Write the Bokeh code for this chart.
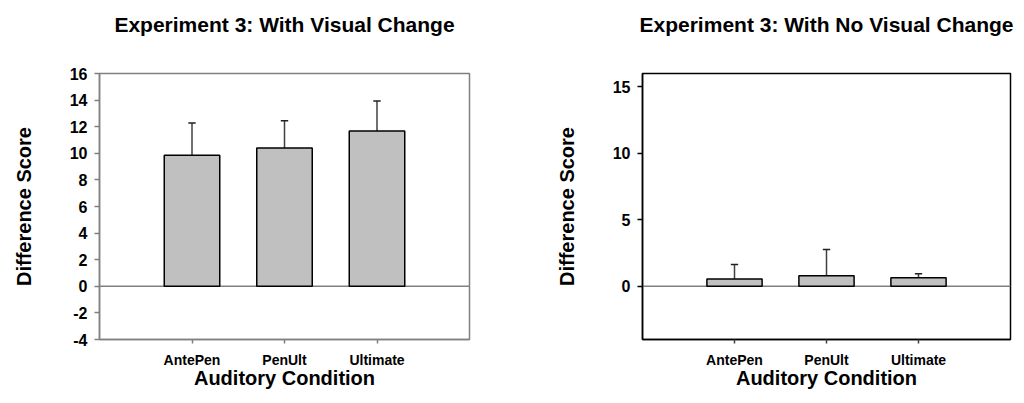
from bokeh.plotting import figure
from bokeh.layouts import row
from bokeh.models import FixedTicker, Range1d, Span, ColumnDataSource, Title
from bokeh.embed import file_html
from bokeh.resources import INLINE

# ---- data ----
categories = ["AntePen", "PenUlt", "Ultimate"]
cat_pos = [1, 2, 3]

visual_means = [9.85, 10.40, 11.68]
visual_errs = [2.43, 2.05, 2.25]

novisual_means = [0.55, 0.80, 0.65]
novisual_errs = [1.08, 1.96, 0.30]

left_ticks = [-4, -2, 0, 2, 4, 6, 8, 10, 12, 14, 16]
right_ticks = [0, 5, 10, 15]

FONT = "Liberation Sans"


def make_panel(title, means, errs, yticks, frame_col, ytick_col, xtick_col,
               mb_left, mb_right, fw):
    p = figure(title=None, frame_width=fw, frame_height=266,
               min_border_left=mb_left, min_border_right=mb_right,
               min_border_top=73, min_border_bottom=56,
               x_range=Range1d(0, 4), y_range=Range1d(-4, 16),
               output_backend="svg", toolbar_location=None)
    p.grid.visible = False
    p.outline_line_color = frame_col
    p.outline_line_width = 1.5
    p.background_fill_color = "white"
    p.border_fill_color = "white"

    # spacer (inner) then real title (outer)
    p.add_layout(Title(text=" ", text_font_size="10px", standoff=25,
                       text_color="white"), "above")
    p.add_layout(Title(text=title, align="center", text_font=FONT,
                       text_font_style="bold", text_font_size="21px",
                       text_color="black", standoff=0), "above")

    # y axis
    ya = p.yaxis[0]
    ya.ticker = FixedTicker(ticks=yticks)
    ya.major_label_overrides = {t: str(t) for t in yticks}
    ya.major_label_text_font = FONT
    ya.major_label_text_font_style = "bold"
    ya.major_label_text_font_size = "16px"
    ya.major_label_text_color = "black"
    ya.major_tick_out = 5
    ya.major_tick_in = 0
    ya.minor_tick_out = 0
    ya.minor_tick_in = 0
    ya.major_label_standoff = 7
    ya.axis_line_color = frame_col
    ya.axis_line_width = 1.5
    ya.major_tick_line_color = ytick_col
    ya.major_tick_line_width = 1.5
    ya.axis_label = "Difference Score"
    ya.axis_label_text_font = FONT
    ya.axis_label_text_font_style = "bold"
    ya.axis_label_text_font_size = "20px"
    ya.axis_label_text_color = "black"
    ya.axis_label_standoff = 32

    # x axis
    xa = p.xaxis[0]
    xa.ticker = FixedTicker(ticks=cat_pos)
    xa.major_label_overrides = {c: n for c, n in zip(cat_pos, categories)}
    xa.major_label_text_font = FONT
    xa.major_label_text_font_style = "bold"
    xa.major_label_text_font_size = "14px"
    xa.major_label_text_color = "black"
    xa.major_tick_out = 4
    xa.major_tick_in = 0
    xa.minor_tick_out = 0
    xa.minor_tick_in = 0
    xa.major_label_standoff = 8
    xa.axis_line_color = frame_col
    xa.axis_line_width = 1.5
    xa.major_tick_line_color = xtick_col
    xa.major_tick_line_width = 1.5
    xa.axis_label = "Auditory Condition"
    xa.axis_label_text_font = FONT
    xa.axis_label_text_font_style = "bold"
    xa.axis_label_text_font_size = "20px"
    xa.axis_label_text_color = "black"
    xa.axis_label_standoff = -4

    zero = Span(location=0, dimension="width", line_color="#808080",
                line_width=1.5, level="underlay")
    p.add_layout(zero)

    uppers = [m + e for m, e in zip(means, errs)]
    src = ColumnDataSource(dict(x=cat_pos, top=means, up=uppers,
                                cl=[c - 0.04 for c in cat_pos],
                                cr=[c + 0.04 for c in cat_pos]))
    p.segment(x0="x", y0="top", x1="x", y1="up", source=src,
              line_color="#404040", line_width=1.5)
    p.segment(x0="cl", y0="up", x1="cr", y1="up", source=src,
              line_color="#202020", line_width=1.5)
    p.vbar(x="x", top="top", bottom=0, width=0.6, source=src,
           fill_color="#C0C0C0", line_color="black", line_width=1.5)
    return p


p1 = make_panel("Experiment 3: With Visual Change", visual_means, visual_errs,
                left_ticks, "#808080", "#808080", "#808080", 99, 40, 370)
p2 = make_panel("Experiment 3: With No Visual Change", novisual_means, novisual_errs,
                right_ticks, "black", "black", "#404040", 133, 6, 368)

layout = row(p1, p2)
open("out.html", "w").write(file_html(layout, INLINE))
